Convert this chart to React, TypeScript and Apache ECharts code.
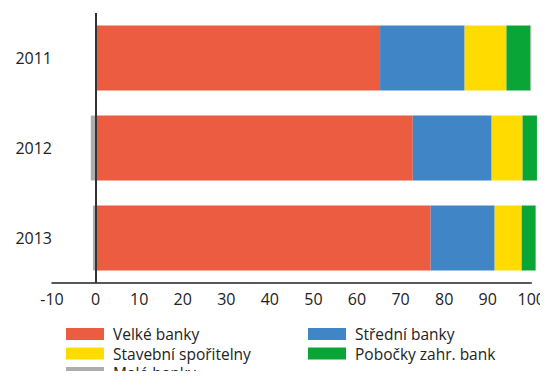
import React, { useEffect, useRef } from "react";
import * as echarts from "echarts";

const years = ["2011", "2012", "2013"];
const velke = [65.3, 72.8, 76.9];
const stredni = [19.4, 18.1, 14.7];
const stavebni = [9.6, 7.1, 6.2];
const pobocky = [5.5, 3.3, 3.2];
const male = [0.2, -1.1, -0.6];
const xTicks = { min: -10, max: 100, interval: 10 };

const FONT = "'Open Sans', 'Noto Sans', sans-serif";

export default function App() {
  const ref = useRef<HTMLDivElement>(null);
  useEffect(() => {
    if (!ref.current) return;
    const chart = echarts.init(ref.current, undefined, { renderer: "svg" });
    const mk = (name: string, data: number[], color: string, extra: any = {}) => ({
      name,
      type: "bar",
      stack: "total",
      data,
      barCategoryGap: "28%",
      clip: false,
      itemStyle: { color },
      emphasis: { disabled: true },
      ...extra,
    });
    const legendText = { fontSize: 15.5, color: "#222", lineHeight: 16, padding: [0, 0, 3, 4], fontFamily: FONT };
    const legendBase = {
      orient: "vertical",
      top: 324.5,
      height: 80,
      padding: 0,
      itemWidth: 38,
      itemHeight: 12,
      itemGap: 0.5,
      icon: "rect",
      selectedMode: false,
      textStyle: legendText,
    };
    chart.setOption({
      animation: false,
      textStyle: { fontFamily: FONT },
      grid: { left: 52, right: 16, top: 13, bottom: 96, containLabel: false },
      xAxis: {
        type: "value",
        min: xTicks.min,
        max: xTicks.max,
        interval: xTicks.interval,
        axisLine: { show: true, lineStyle: { color: "#222", width: 1.5 } },
        axisTick: { show: false },
        splitLine: { show: false },
        axisLabel: { color: "#222", fontSize: 16, margin: 8, fontFamily: FONT },
      },
      yAxis: {
        type: "category",
        data: years,
        inverse: true,
        axisLine: { show: false, onZero: false },
        axisTick: { show: false },
        axisLabel: { color: "#222", fontSize: 16, margin: 0, fontFamily: FONT },
      },
      legend: [
        { ...legendBase, left: 66, data: ["Velké banky", "Stavební spořitelny", "Malé banky"] },
        { ...legendBase, left: 308, data: ["Střední banky", "Pobočky zahr. bank"] },
      ],
      series: [
        mk("Velké banky", velke, "#EC5C40", {
          markLine: {
            silent: true,
            symbol: "none",
            label: { show: false },
            lineStyle: { color: "#333", width: 2, type: "solid" },
            data: [{ xAxis: 0 }],
          },
        }),
        mk("Střední banky", stredni, "#4085C6"),
        mk("Stavební spořitelny", stavebni, "#FFDB00"),
        mk("Pobočky zahr. bank", pobocky, "#0AA537"),
        mk("Malé banky", male, "#ADADAD"),
      ],
    });
    return () => chart.dispose();
  }, []);
  return <div ref={ref} style={{ width: 548, height: 379, margin: -8 }} />;
}
